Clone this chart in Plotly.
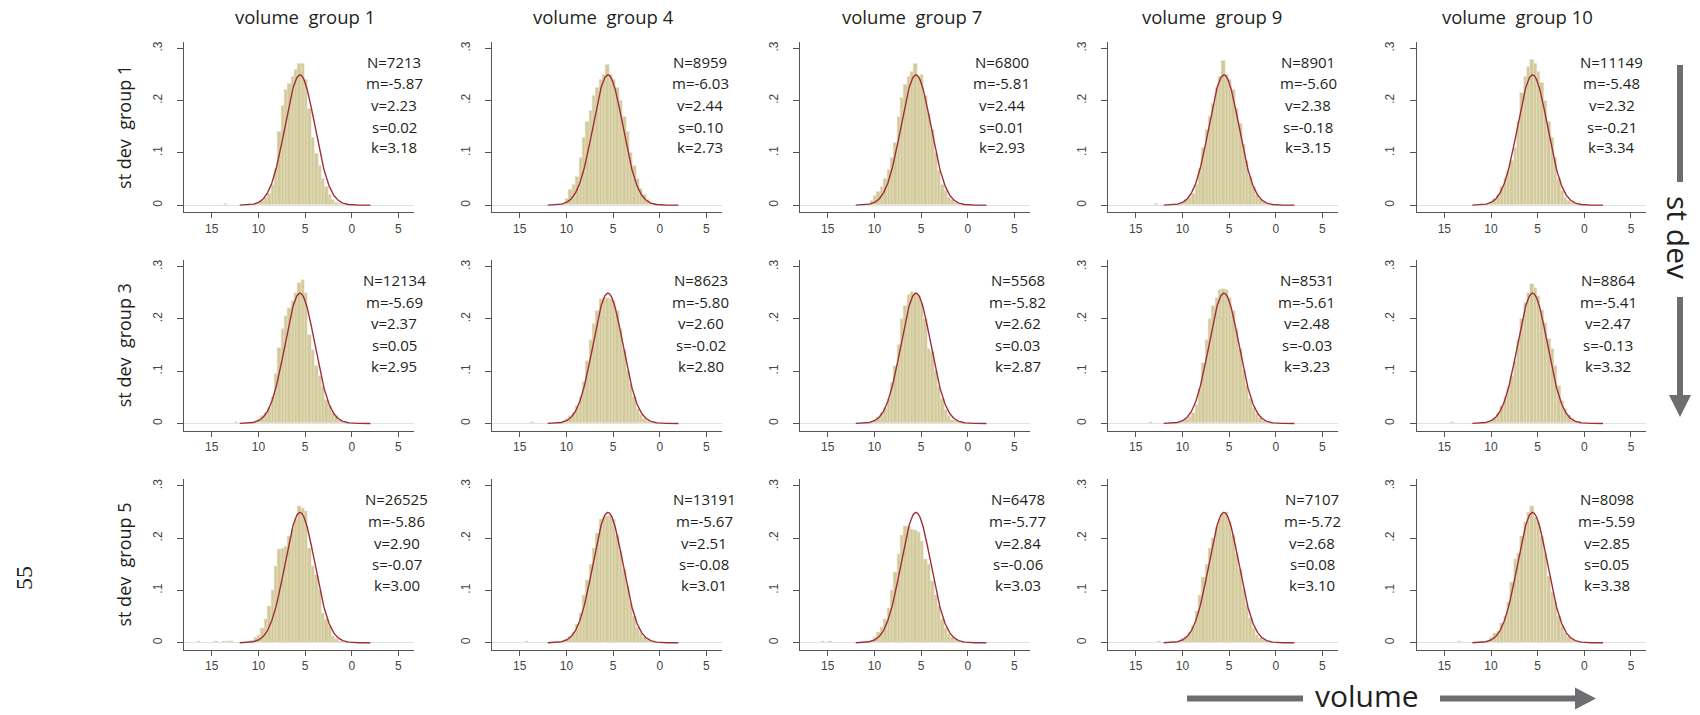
import numpy as np
import plotly.graph_objects as go

W, H = 1700, 715

# ---------------- data ----------------
col_titles = ["volume\u00a0 group 1", "volume\u00a0 group 4", "volume\u00a0 group 7",
              "volume\u00a0 group 9", "volume\u00a0 group 10"]
row_titles = ["st dev\u00a0 group 1", "st dev\u00a0 group 3", "st dev\u00a0 group 5"]

N_vals = [[7213, 8959, 6800, 8901, 11149],
          [12134, 8623, 5568, 8531, 8864],
          [26525, 13191, 6478, 7107, 8098]]
m_vals = [[-5.87, -6.03, -5.81, -5.60, -5.48],
          [-5.69, -5.80, -5.82, -5.61, -5.41],
          [-5.86, -5.67, -5.77, -5.72, -5.59]]
v_vals = [[2.23, 2.44, 2.44, 2.38, 2.32],
          [2.37, 2.60, 2.62, 2.48, 2.47],
          [2.90, 2.51, 2.84, 2.68, 2.85]]
s_vals = [[0.02, 0.10, 0.01, -0.18, -0.21],
          [0.05, -0.02, 0.03, -0.03, -0.13],
          [-0.07, -0.08, -0.06, 0.08, 0.05]]
k_vals = [[3.18, 2.73, 2.93, 3.15, 3.34],
          [2.95, 2.80, 2.87, 3.23, 3.32],
          [3.00, 3.01, 3.03, 3.10, 3.38]]

# histogram bins (density), bin centres from -10.64 in steps of 0.36
BIN_W = 0.36
bin_centers = [-10.64, -10.28, -9.92, -9.56, -9.20, -8.84, -8.48, -8.12, -7.76, -7.40,
               -7.04, -6.68, -6.32, -5.96, -5.60, -5.24, -4.88, -4.52, -4.16, -3.80,
               -3.44, -3.08, -2.72, -2.36, -2.00, -1.64, -1.28, -0.92, -0.56]

h_r1c1 = [0.001, 0.002, 0.004, 0.008, 0.015, 0.022, 0.040, 0.070, 0.140, 0.190, 0.220, 0.233, 0.246, 0.260, 0.271,
          0.271, 0.240, 0.185, 0.130, 0.099, 0.075, 0.050, 0.035, 0.020, 0.010, 0.005, 0.003, 0.001, 0.001]
h_r1c2 = [0.002, 0.003, 0.012, 0.030, 0.040, 0.054, 0.090, 0.130, 0.160, 0.180, 0.210, 0.225, 0.240, 0.250, 0.268,
          0.250, 0.240, 0.225, 0.200, 0.170, 0.140, 0.100, 0.075, 0.050, 0.032, 0.020, 0.010, 0.005, 0.002]
h_r1c3 = [0.003, 0.008, 0.018, 0.025, 0.035, 0.050, 0.067, 0.090, 0.120, 0.170, 0.205, 0.230, 0.245, 0.255, 0.271,
          0.246, 0.250, 0.210, 0.175, 0.144, 0.100, 0.065, 0.040, 0.028, 0.015, 0.010, 0.005, 0.002, 0.001]
h_r1c4 = [0.002, 0.003, 0.005, 0.010, 0.015, 0.022, 0.040, 0.070, 0.110, 0.144, 0.170, 0.195, 0.225, 0.246, 0.276,
          0.249, 0.240, 0.220, 0.185, 0.155, 0.115, 0.085, 0.055, 0.035, 0.020, 0.012, 0.006, 0.003, 0.001]
h_r1c5 = [0.001, 0.002, 0.006, 0.012, 0.020, 0.035, 0.050, 0.065, 0.085, 0.110, 0.160, 0.215, 0.245, 0.265, 0.278,
          0.270, 0.255, 0.235, 0.200, 0.160, 0.130, 0.090, 0.050, 0.028, 0.015, 0.008, 0.004, 0.002, 0.001]
h_r2c1 = [0.002, 0.004, 0.008, 0.014, 0.020, 0.030, 0.050, 0.095, 0.145, 0.180, 0.205, 0.220, 0.235, 0.250, 0.268,
          0.275, 0.250, 0.170, 0.140, 0.110, 0.090, 0.070, 0.045, 0.033, 0.020, 0.015, 0.007, 0.003, 0.001]
h_r2c2 = [0.002, 0.004, 0.008, 0.015, 0.020, 0.033, 0.050, 0.080, 0.120, 0.160, 0.190, 0.215, 0.238, 0.240, 0.240,
          0.238, 0.235, 0.215, 0.180, 0.140, 0.100, 0.075, 0.050, 0.028, 0.016, 0.008, 0.004, 0.002, 0.001]
h_r2c3 = [0.001, 0.003, 0.006, 0.012, 0.020, 0.030, 0.046, 0.078, 0.110, 0.150, 0.200, 0.225, 0.245, 0.252, 0.250,
          0.245, 0.230, 0.200, 0.142, 0.136, 0.100, 0.070, 0.046, 0.025, 0.014, 0.007, 0.004, 0.002, 0.001]
h_r2c4 = [0.001, 0.002, 0.004, 0.008, 0.012, 0.020, 0.035, 0.065, 0.115, 0.160, 0.200, 0.225, 0.240, 0.255, 0.257,
          0.255, 0.240, 0.215, 0.180, 0.142, 0.103, 0.072, 0.046, 0.030, 0.018, 0.010, 0.005, 0.002, 0.001]
h_r2c5 = [0.001, 0.002, 0.005, 0.010, 0.020, 0.033, 0.050, 0.070, 0.090, 0.120, 0.160, 0.200, 0.230, 0.250, 0.266,
          0.260, 0.244, 0.218, 0.193, 0.161, 0.142, 0.110, 0.071, 0.043, 0.027, 0.017, 0.008, 0.004, 0.002]
h_r3c1 = [0.005, 0.010, 0.015, 0.028, 0.045, 0.070, 0.100, 0.147, 0.178, 0.180, 0.185, 0.204, 0.217, 0.236, 0.262,
          0.258, 0.252, 0.180, 0.147, 0.130, 0.100, 0.057, 0.044, 0.032, 0.013, 0.007, 0.003, 0.002, 0.001]
h_r3c2 = [0.001, 0.003, 0.006, 0.012, 0.020, 0.035, 0.057, 0.090, 0.120, 0.150, 0.180, 0.210, 0.236, 0.240, 0.242,
          0.243, 0.236, 0.205, 0.175, 0.140, 0.108, 0.075, 0.050, 0.030, 0.018, 0.010, 0.005, 0.002, 0.001]
h_r3c3 = [0.002, 0.004, 0.010, 0.020, 0.030, 0.045, 0.065, 0.100, 0.135, 0.170, 0.205, 0.222, 0.223, 0.218, 0.215,
          0.212, 0.195, 0.160, 0.150, 0.118, 0.090, 0.070, 0.045, 0.028, 0.017, 0.010, 0.005, 0.002, 0.001]
h_r3c4 = [0.001, 0.003, 0.008, 0.013, 0.020, 0.032, 0.060, 0.090, 0.125, 0.150, 0.180, 0.200, 0.220, 0.236, 0.246,
          0.249, 0.232, 0.205, 0.172, 0.140, 0.103, 0.072, 0.046, 0.027, 0.015, 0.008, 0.004, 0.002, 0.001]
h_r3c5 = [0.002, 0.004, 0.010, 0.019, 0.022, 0.038, 0.051, 0.077, 0.115, 0.160, 0.172, 0.204, 0.230, 0.249, 0.262,
          0.240, 0.230, 0.204, 0.172, 0.128, 0.096, 0.077, 0.051, 0.032, 0.019, 0.010, 0.005, 0.002, 0.001]

heights = [[h_r1c1, h_r1c2, h_r1c3, h_r1c4, h_r1c5],
           [h_r2c1, h_r2c2, h_r2c3, h_r2c4, h_r2c5],
           [h_r3c1, h_r3c2, h_r3c3, h_r3c4, h_r3c5]]

# isolated outlying observations (bin centre, density)
outliers = [[[(-13.5, 0.002)], [], [], [(-12.8, 0.002)], []],
            [[(-12.4, 0.002)], [(-13.7, 0.002)], [], [(-13.4, 0.002)], [(-14.1, 0.002)]],
            [[(-16.4, 0.002), (-14.5, 0.002), (-13.7, 0.002), (-13.3, 0.002), (-12.9, 0.002)],
             [(-14.2, 0.002)], [(-15.5, 0.002), (-14.7, 0.002)], [(-12.5, 0.002)], [(-13.4, 0.002)]]]

# reference normal density drawn in every panel
CURVE_MEAN, CURVE_SD = -5.55, 1.6
CURVE_FROM, CURVE_TO = -12.0, 2.0

x_tickvals = [-15, -10, -5, 0, 5]
x_ticktext = ["15", "10", "5", "0", "5"]
y_tickvals = [0, 0.1, 0.2, 0.3]
y_ticktext = ["0", ".1", ".2", ".3"]

# ---------------- layout constants (pixels) ----------------
COL_LEFT = [184.4, 492.4, 800.4, 1108.4, 1417.0]
PANEL_W = 229.2
ROW_TOP = [41.7, 260.0, 479.3]
PANEL_H = 170.5
XR = [-17.93, 6.63]
YR = [-0.0135, 0.3128]

STAT_X = [[394.2, 700.2, 1001.5, 1308.0, 1611.5],
          [394.2, 700.8, 1017.5, 1306.5, 1608.3],
          [396.9, 704.0, 1017.5, 1312.0, 1606.5]]
STAT_DY = [20.0, 41.6, 63.3, 85.0, 105.6]
COL_TITLE_X = [305, 603, 912, 1211.6, 1517]
COL_TITLE_Y = 16
ROW_TITLE_X = 124

BAR_COLOR = "#d3ca9c"
BAR_EDGE = "#e8e3c9"
CURVE_COLOR = "#9e2f3a"
AXIS_COLOR = "#555555"
TEXT_COLOR = "#231f20"
ARROW_COLOR = "#6d6e71"
TXT_FONT = "Open Sans"
TICK_FONT = dict(family="Liberation Sans", size=12, color="#444444")


def px(x):
    return x / W


def py(y):
    return 1 - y / H


fig = go.Figure()
layout = {}
annotations = []

cx = np.linspace(CURVE_FROM, CURVE_TO, 281)
cy = np.exp(-0.5 * ((cx - CURVE_MEAN) / CURVE_SD) ** 2) / (CURVE_SD * np.sqrt(2 * np.pi))

for r in range(3):
    for c in range(5):
        p = r * 5 + c + 1
        xa = "x" if p == 1 else f"x{p}"
        ya = "y" if p == 1 else f"y{p}"
        ox = [o[0] for o in outliers[r][c]]
        oh = [o[1] for o in outliers[r][c]]
        fig.add_trace(go.Bar(
            x=bin_centers + ox, y=heights[r][c] + oh, width=BIN_W,
            marker=dict(color=BAR_COLOR, line=dict(color=BAR_EDGE, width=0.5)),
            xaxis=xa, yaxis=ya, showlegend=False, hoverinfo="skip"))
        fig.add_trace(go.Scatter(
            x=cx, y=cy, mode="lines", line=dict(color=CURVE_COLOR, width=1.4),
            xaxis=xa, yaxis=ya, showlegend=False, hoverinfo="skip"))

        x0 = px(COL_LEFT[c]); x1 = px(COL_LEFT[c] + PANEL_W)
        y1 = py(ROW_TOP[r]); y0 = py(ROW_TOP[r] + PANEL_H)
        key = "" if p == 1 else str(p)
        layout["xaxis" + key] = dict(
            domain=[x0, x1], anchor=ya, range=XR, tickvals=x_tickvals, ticktext=x_ticktext,
            ticks="outside", ticklen=5, tickwidth=1, tickcolor=AXIS_COLOR,
            showline=True, linecolor=AXIS_COLOR, linewidth=1.2, mirror=False,
            showgrid=False, zeroline=False, tickfont=TICK_FONT, fixedrange=True)
        layout["yaxis" + key] = dict(
            domain=[y0, y1], anchor=xa, range=YR, tickvals=y_tickvals, ticktext=y_ticktext,
            tickangle=-90, ticks="outside", ticklen=6, tickwidth=1, tickcolor=AXIS_COLOR,
            showline=True, linecolor=AXIS_COLOR, linewidth=1.2,
            showgrid=False, zeroline=True, zerolinecolor="#dde3e8", zerolinewidth=1.2,
            tickfont=TICK_FONT, ticklabelstandoff=11, fixedrange=True)

        lines = [f"N={N_vals[r][c]}", f"m={m_vals[r][c]:.2f}", f"v={v_vals[r][c]:.2f}",
                 f"s={s_vals[r][c]:.2f}", f"k={k_vals[r][c]:.2f}"]
        for t, dy in zip(lines, STAT_DY):
            annotations.append(dict(
                x=px(STAT_X[r][c]), y=py(ROW_TOP[r] + dy), xref="paper", yref="paper",
                text=t, showarrow=False, xanchor="center", yanchor="middle",
                font=dict(family=TXT_FONT, size=15, color=TEXT_COLOR)))

for c, t in enumerate(col_titles):
    annotations.append(dict(x=px(COL_TITLE_X[c]), y=py(COL_TITLE_Y), xref="paper", yref="paper",
                            text=t, showarrow=False, xanchor="center", yanchor="middle",
                            font=dict(family=TXT_FONT, size=18.5, color=TEXT_COLOR)))
for r, t in enumerate(row_titles):
    annotations.append(dict(x=px(ROW_TITLE_X), y=py(ROW_TOP[r] + PANEL_H / 2), xref="paper", yref="paper",
                            text=t, showarrow=False, textangle=-90, xanchor="center", yanchor="middle",
                            font=dict(family=TXT_FONT, size=18, color=TEXT_COLOR)))

# direction labels
annotations.append(dict(x=px(1679), y=py(237), xref="paper", yref="paper", text="st dev",
                        showarrow=False, textangle=90, xanchor="center", yanchor="middle",
                        font=dict(family=TXT_FONT, size=30, color=TEXT_COLOR)))
annotations.append(dict(x=px(1367), y=py(695), xref="paper", yref="paper", text="volume",
                        showarrow=False, xanchor="center", yanchor="middle",
                        font=dict(family=TXT_FONT, size=30, color=TEXT_COLOR)))
annotations.append(dict(x=px(24), y=py(578), xref="paper", yref="paper", text="55",
                        showarrow=False, textangle=-90, xanchor="center", yanchor="middle",
                        font=dict(family="Liberation Serif", size=24, color=TEXT_COLOR)))

shapes = []
def seg(xa_, ya_, xb_, yb_):
    shapes.append(dict(type="line", xref="paper", yref="paper",
                       x0=px(xa_), y0=py(ya_), x1=px(xb_), y1=py(yb_),
                       line=dict(color=ARROW_COLOR, width=6)))

def tri(points):
    path = "M " + " L ".join(f"{px(a)},{py(b)}" for a, b in points) + " Z"
    shapes.append(dict(type="path", xref="paper", yref="paper", path=path,
                       fillcolor=ARROW_COLOR, line=dict(width=0)))

seg(1680, 65, 1680, 182)
seg(1680, 297, 1680, 397)
tri([(1669, 395), (1691, 395), (1680, 417)])
seg(1187, 698.5, 1303, 698.5)
seg(1440, 698.5, 1577, 698.5)
tri([(1575, 687.5), (1575, 709.5), (1596, 698.5)])

fig.update_layout(
    width=W, height=H, margin=dict(l=0, r=0, t=0, b=0),
    paper_bgcolor="white", plot_bgcolor="white",
    annotations=annotations, shapes=shapes, bargap=0, **layout)

fig.write_html("out.html")
